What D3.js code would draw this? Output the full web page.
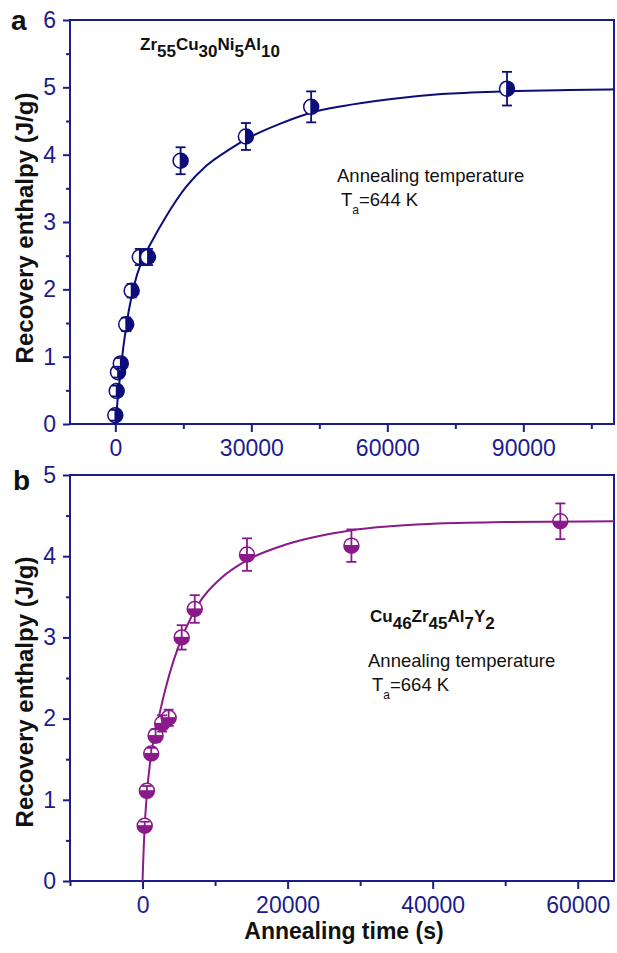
<!DOCTYPE html>
<html>
<head>
<meta charset="utf-8">
<script src="https://cdn.jsdelivr.net/npm/d3@7/dist/d3.min.js"></script>
<style>
  body { margin: 0; background: #fff; }
  text { font-family: "Liberation Sans", Arial, sans-serif; }
</style>
</head>
<body>
<svg id="chart" width="617" height="953"></svg>
<script>
// panel a : Zr55Cu30Ni5Al10, 644 K
var timesA = [0, 300, 600, 1200, 2400, 3600, 5400, 7200, 14400, 28800, 43200, 86400],
    enthA  = [0.13, 0.49, 0.77, 0.9, 1.48, 1.98, 2.48, 2.48, 3.91, 4.27, 4.71, 4.98],
    errA   = [0.08, 0.08, 0.08, 0.08, 0.1, 0.1, 0.12, 0.12, 0.2, 0.2, 0.23, 0.25],
    fitTimesA = [0, 600, 1200, 2400, 3600, 4800, 6300, 8200, 11000, 15600, 20000, 25000, 30000, 36000, 43000, 50000, 60000, 72000, 86000, 100000, 110000],
    fitEnthA  = [0, 0.42, 0.82, 1.45, 1.9, 2.22, 2.48, 2.73, 3.06, 3.52, 3.83, 4.07, 4.27, 4.45, 4.62, 4.72, 4.82, 4.9, 4.94, 4.96, 4.97],
    xTicksA = [0, 30000, 60000, 90000],
    xMinorA = [15000, 45000, 75000, 105000],
    yTicksA = [0, 1, 2, 3, 4, 5, 6],
    yMinorA = [0.5, 1.5, 2.5, 3.5, 4.5, 5.5];

// panel b : Cu46Zr45Al7Y2, 664 K
var timesB = [300, 600, 1200, 1800, 2700, 3600, 5400, 7200, 14400, 28800, 57600],
    enthB  = [0.68, 1.11, 1.57, 1.79, 1.94, 2.01, 3.0, 3.35, 4.02, 4.13, 4.43],
    errB   = [0.05, 0.06, 0.07, 0.08, 0.1, 0.1, 0.15, 0.17, 0.2, 0.2, 0.22],
    fitTimesB = [0, 150, 300, 650, 1200, 2200, 3200, 4300, 5900, 8000, 10700, 14400, 20000, 28800, 40000, 50000, 65000],
    fitEnthB  = [0, 0.38, 0.68, 1.12, 1.57, 2.0, 2.38, 2.72, 3.1, 3.45, 3.72, 3.95, 4.15, 4.32, 4.4, 4.42, 4.43],
    xTicksB = [0, 20000, 40000, 60000],
    xMinorB = [-10000, 10000, 30000, 50000],
    yTicksB = [0, 1, 2, 3, 4, 5],
    yMinorB = [0.5, 1.5, 2.5, 3.5, 4.5];

var axisColor = "#1c1c8c",
    colorA = "#0d0d7a",
    colorB = "#8a1a8a",
    left = 70, right = 614;

var svg = d3.select("#chart");

function drawPanel(opt) {
  var x = d3.scaleLinear().domain(opt.xDomain).range([left, right]);
  var y = d3.scaleLinear().domain(opt.yDomain).range([opt.bottom, opt.top]);
  var g = svg.append("g");

  // axes
  var xAxis = g.append("g")
    .attr("transform", "translate(0," + opt.bottom + ")")
    .call(d3.axisBottom(x).tickValues(opt.xTicks).tickFormat(d3.format("d"))
      .tickSizeInner(8).tickSizeOuter(0).tickPadding(opt.xPad));
  var xMinor = g.append("g")
    .attr("transform", "translate(0," + opt.bottom + ")")
    .call(d3.axisBottom(x).tickValues(opt.xMinor).tickFormat("").tickSizeInner(5).tickSizeOuter(0));
  var yAxis = g.append("g")
    .attr("transform", "translate(" + left + ",0)")
    .call(d3.axisLeft(y).tickValues(opt.yTicks).tickFormat(d3.format("d"))
      .tickSizeInner(7).tickSizeOuter(0).tickPadding(7));
  var yMinor = g.append("g")
    .attr("transform", "translate(" + left + ",0)")
    .call(d3.axisLeft(y).tickValues(opt.yMinor).tickFormat("").tickSizeInner(4).tickSizeOuter(0));

  [xAxis, xMinor, yAxis, yMinor].forEach(function(a) {
    a.select(".domain").remove();
    a.selectAll("line").attr("stroke", axisColor).attr("stroke-width", 2);
    a.selectAll("text").attr("fill", axisColor).attr("font-size", "23px")
      .attr("font-family", "Liberation Sans, Arial, sans-serif");
  });

  g.append("rect")
    .attr("x", left).attr("y", opt.top)
    .attr("width", right - left).attr("height", opt.bottom - opt.top)
    .attr("fill", "none").attr("stroke", axisColor).attr("stroke-width", 2);

  // fitted curve
  var clipId = "clip" + opt.name;
  g.append("clipPath").attr("id", clipId).append("rect")
    .attr("x", left).attr("y", opt.top).attr("width", right - left).attr("height", opt.bottom - opt.top);
  var line = d3.line()
    .x(function(d, i) { return x(opt.fitT[i]); })
    .y(function(d) { return y(d); })
    .curve(d3.curveMonotoneX);
  g.append("path")
    .datum(opt.fitY)
    .attr("clip-path", "url(#" + clipId + ")")
    .attr("d", line)
    .attr("fill", "none").attr("stroke", opt.color).attr("stroke-width", 2);

  // half filled markers
  var r = 7.5;
  var half = d3.arc().innerRadius(0).outerRadius(r)
    .startAngle(opt.arcStart).endAngle(opt.arcStart + Math.PI);
  var pts = g.selectAll(".pt").data(opt.t).enter().append("g")
    .attr("transform", function(d, i) { return "translate(" + x(d) + "," + y(opt.v[i]) + ")"; });
  pts.append("circle").attr("r", r).attr("fill", "#fff")
    .attr("stroke", opt.color).attr("stroke-width", 1.5);
  pts.append("path").attr("d", half).attr("fill", opt.color);
  if (opt.name == "b") {
    pts.append("line").attr("x1", -r).attr("x2", r).attr("stroke", opt.color).attr("stroke-width", 1.2);
  }

  // error bars
  var eb = g.selectAll(".eb").data(opt.t).enter().append("g")
    .attr("stroke", opt.color).attr("stroke-width", 1.8);
  eb.append("line")
    .attr("x1", function(d) { return x(d); }).attr("x2", function(d) { return x(d); })
    .attr("y1", function(d, i) { return y(opt.v[i] + opt.e[i]); })
    .attr("y2", function(d, i) { return y(opt.v[i] - opt.e[i]); });
  [1, -1].forEach(function(s) {
    eb.append("line")
      .attr("x1", function(d) { return x(d) - 5; }).attr("x2", function(d) { return x(d) + 5; })
      .attr("y1", function(d, i) { return y(opt.v[i] + s * opt.e[i]); })
      .attr("y2", function(d, i) { return y(opt.v[i] + s * opt.e[i]); });
  });

  // y label
  svg.append("text")
    .attr("transform", "translate(33," + opt.labelY + ") rotate(-90)")
    .attr("text-anchor", "middle")
    .attr("font-size", "24px").attr("font-weight", "bold").attr("fill", "#111")
    .text("Recovery enthalpy (J/g)");

  // panel letter
  svg.append("text")
    .attr("x", opt.letterX).attr("y", opt.letterY)
    .attr("font-size", "28px").attr("font-weight", "bold").attr("fill", "#111")
    .text(opt.name);

  // composition label with subscripts
  var comp = svg.append("text")
    .attr("x", opt.compX).attr("y", opt.compY)
    .attr("font-size", "17px").attr("font-weight", "bold").attr("fill", "#111");
  opt.comp.forEach(function(p, i) {
    comp.append("tspan").attr("dy", i == 0 ? 0 : -7).text(p[0]);
    comp.append("tspan").attr("dy", 7).text(p[1]);
  });

  // annealing temperature
  svg.append("text")
    .attr("x", opt.annX).attr("y", opt.annY)
    .attr("font-size", "18.5px").attr("fill", "#111")
    .text("Annealing temperature");
  var ta = svg.append("text")
    .attr("x", opt.annX + 4).attr("y", opt.annY + 24)
    .attr("font-size", "18.5px").attr("fill", "#111");
  ta.append("tspan").text("T");
  ta.append("tspan").attr("font-size", "12px").attr("dy", 8).text("a");
  ta.append("tspan").attr("dy", -8).text(opt.temp);
}

drawPanel({
  name: "a", xDomain: [-10000, 110000], yDomain: [0, 6], top: 20, bottom: 424,
  xTicks: xTicksA, xMinor: xMinorA, yTicks: yTicksA, yMinor: yMinorA, xPad: 8,
  t: timesA, v: enthA, e: errA, fitT: fitTimesA, fitY: fitEnthA,
  color: colorA, arcStart: 0, labelY: 228, letterX: 11, letterY: 30,
  comp: [["Zr", "55"], ["Cu", "30"], ["Ni", "5"], ["Al", "10"]], compX: 140, compY: 50,
  annX: 337, annY: 182, temp: "=644 K"
});

drawPanel({
  name: "b", xDomain: [-10000, 65000], yDomain: [0, 5], top: 475, bottom: 881,
  xTicks: xTicksB, xMinor: xMinorB, yTicks: yTicksB, yMinor: yMinorB, xPad: 8,
  t: timesB, v: enthB, e: errB, fitT: fitTimesB, fitY: fitEnthB,
  color: colorB, arcStart: Math.PI / 2, labelY: 692, letterX: 13, letterY: 490,
  comp: [["Cu", "46"], ["Zr", "45"], ["Al", "7"], ["Y", "2"]], compX: 370, compY: 622,
  annX: 368, annY: 667, temp: "=664 K"
});

svg.append("text")
  .attr("x", 344).attr("y", 939)
  .attr("text-anchor", "middle")
  .attr("font-size", "23px").attr("font-weight", "bold").attr("fill", "#111")
  .text("Annealing time (s)");
</script>
</body>
</html>
